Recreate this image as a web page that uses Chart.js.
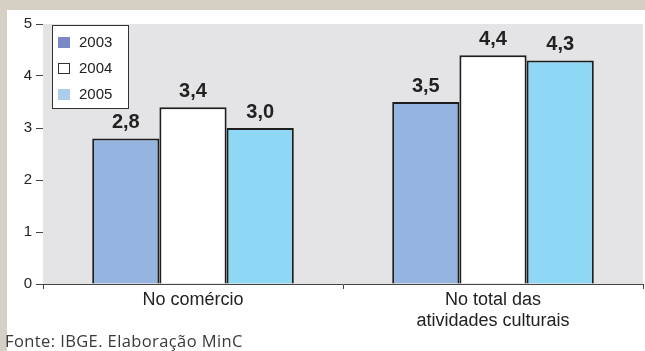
<!DOCTYPE html>
<html>
<head>
<meta charset="utf-8">
<script src="https://cdn.jsdelivr.net/npm/chart.js@4/dist/chart.umd.min.js"></script>
<style>
  html, body { margin: 0; padding: 0; }
  body { width: 645px; height: 351px; background: #d6d0c4; position: relative; overflow: hidden; }
  #frame { position: absolute; left: 7px; top: 10px; right: 0; bottom: 0; background: #fff; }
  #wrap { position: absolute; left: 0; top: 0; width: 645px; height: 351px; }
  #footer { position: absolute; left: 5px; top: 329px; font: 16.5px "Open Sans", sans-serif; letter-spacing: 0.4px; color: #3a3a3a; white-space: nowrap; }
</style>
</head>
<body>
<div id="frame"></div>
<div id="wrap"><canvas id="chart" width="645" height="351"></canvas></div>
<div id="footer">Fonte: IBGE. Elaboração MinC</div>
<script>
const categories = [['No comércio'], ['No total das', 'atividades culturais']];
const seriesLabels = ['2003', '2004', '2005'];
const values2003 = [2.8, 3.5];
const values2004 = [3.4, 4.4];
const values2005 = [3.0, 4.3];
const yTicks = [0, 1, 2, 3, 4, 5];

const barColors = ['#95b5e0', '#ffffff', '#8ed7f5'];
const legendColors = ['#7b88c6', '#ffffff', '#abcdeb'];

const fmt = v => v.toFixed(1).replace('.', ',');
const FONT = '"Liberation Sans", Arial, sans-serif';

// gray plot background
const plotBg = {
    id: 'plotBg',
    beforeDatasetsDraw(chart) {
        const { ctx, chartArea: a } = chart;
        ctx.save();
        ctx.fillStyle = '#e4e4e6';
        ctx.fillRect(a.left, a.top, a.right - a.left, a.bottom - a.top);
        ctx.restore();
    }
};

// value labels above each bar
const valueLabels = {
    id: 'valueLabels',
    afterDatasetsDraw(chart) {
        const { ctx } = chart;
        ctx.save();
        ctx.font = 'bold 20px ' + FONT;
        ctx.fillStyle = '#222';
        ctx.textAlign = 'center';
        ctx.textBaseline = 'alphabetic';
        chart.data.datasets.forEach((ds, i) => {
            chart.getDatasetMeta(i).data.forEach((bar, j) => {
                ctx.fillText(fmt(ds.data[j]), bar.x, bar.y - 10);
            });
        });
        ctx.restore();
    }
};

// boxed legend inside the plot, top-left
const boxLegend = {
    id: 'boxLegend',
    afterDraw(chart) {
        const { ctx, chartArea: a } = chart;
        const x = a.left + 9, y = a.top + 1;
        ctx.save();
        ctx.fillStyle = '#fff';
        ctx.fillRect(x, y, 76, 83);
        ctx.strokeStyle = '#333';
        ctx.lineWidth = 1;
        ctx.strokeRect(x + 0.5, y + 0.5, 76, 83);
        ctx.font = '15px ' + FONT;
        ctx.textBaseline = 'middle';
        seriesLabels.forEach((lab, i) => {
            const cy = y + 17 + i * 26;
            ctx.fillStyle = legendColors[i];
            ctx.fillRect(x + 6, cy - 5, 12, 11);
            if (i === 1) {
                ctx.strokeStyle = '#333';
                ctx.strokeRect(x + 6.5, cy - 4.5, 11, 10);
            }
            ctx.fillStyle = '#222';
            ctx.fillText(lab, x + 27, cy + 1);
        });
        ctx.restore();
    }
};

new Chart(document.getElementById('chart'), {
    type: 'bar',
    data: {
        labels: categories,
        datasets: seriesLabels.map((lab, i) => ({
            label: lab,
            data: [values2003, values2004, values2005][i],
            backgroundColor: barColors[i],
            borderColor: '#1e1e1e',
            borderWidth: 2,
            borderSkipped: 'bottom',
            barPercentage: 1,
            categoryPercentage: 0.672
        }))
    },
    options: {
        responsive: false,
        animation: false,
        layout: { padding: { top: 24, right: 2, left: 0, bottom: 0 } },
        plugins: { legend: { display: false }, tooltip: { enabled: false } },
        scales: {
            x: {
                grid: { drawOnChartArea: false, offset: true, color: '#444', tickLength: 5 },
                border: { color: '#444', width: 1 },
                ticks: { color: '#222', font: { size: 18, family: FONT }, padding: 0, maxRotation: 0 },
                afterFit(scale) { scale.height = 67; }
            },
            y: {
                min: 0,
                max: 5,
                afterBuildTicks(scale) { scale.ticks = yTicks.map(v => ({ value: v })); },
                grid: { drawOnChartArea: false, color: '#444', tickLength: 7 },
                border: { color: '#444', width: 1 },
                ticks: { color: '#222', font: { size: 15, family: FONT }, padding: 4 },
                afterFit(scale) { scale.width = 43; }
            }
        }
    },
    plugins: [plotBg, valueLabels, boxLegend]
});
</script>
</body>
</html>
